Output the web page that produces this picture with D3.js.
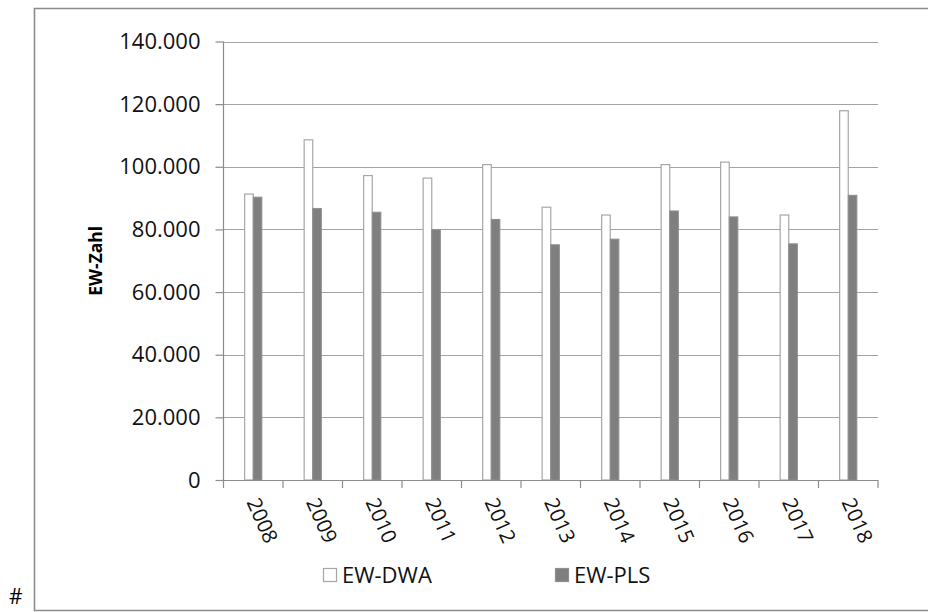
<!DOCTYPE html>
<html>
<head>
<meta charset="utf-8">
<script src="https://cdn.jsdelivr.net/npm/d3@7"></script>
<style>
  html, body { margin: 0; padding: 0; background: #fff; }
  svg { display: block; font-family: "Open Sans", "Noto Sans", sans-serif; }
</style>
</head>
<body>
<svg id="chart" width="928" height="612"></svg>
<script>
// Einwohnerzahlen je Jahr
const years = ["2008", "2009", "2010", "2011", "2012", "2013", "2014", "2015", "2016", "2017", "2018"];
const ewDWA = [91300, 108600, 97200, 96400, 100700, 87100, 84600, 100700, 101500, 84600, 117900];
const ewPLS = [90300, 86700, 85500, 79900, 83200, 75100, 76900, 85900, 84000, 75400, 90900];
const yTicks = [0, 20000, 40000, 60000, 80000, 100000, 120000, 140000];
const seriesNames = ["EW-DWA", "EW-PLS"];

const svg = d3.select("#chart");
const plot = { left: 223.5, right: 878, top: 41.5, bottom: 480 };

const de = d3.formatLocale({ decimal: ",", thousands: ".", grouping: [3], currency: ["", " €"] });
const fmt = de.format(",d");

const x = d3.scaleBand().domain(years).range([plot.left, plot.right]).padding(0);
const y = d3.scaleLinear().domain([0, 140000]).range([plot.bottom, plot.top]);
const barW = 8.6;

// Rahmen
svg.append("path")
  .attr("d", `M928,8.5 H34.5 V610.5 H928`)
  .attr("fill", "none")
  .attr("stroke", "#8c8c8c")
  .attr("stroke-width", 1.6);

svg.append("text")
  .attr("x", 9).attr("y", 604)
  .attr("font-size", 21)
  .attr("fill", "#000")
  .text("#");

// Gitterlinien
svg.append("g")
  .selectAll("line")
  .data(yTicks.filter(d => d > 0))
  .join("line")
  .attr("x1", plot.left).attr("x2", plot.right)
  .attr("y1", d => Math.round(y(d)) + 0.5).attr("y2", d => Math.round(y(d)) + 0.5)
  .attr("stroke", "#a3a3a3").attr("stroke-width", 1.2);

// Y-Achse
const yAxis = svg.append("g")
  .attr("transform", `translate(${plot.left},0)`)
  .call(d3.axisLeft(y).tickValues(yTicks).tickFormat(fmt).tickSize(8).tickPadding(15));
yAxis.select(".domain").attr("stroke", "#8c8c8c").attr("stroke-width", 1.2).attr("d", `M-0,${plot.top}V${plot.bottom}`);
yAxis.selectAll(".tick line").attr("stroke", "#8c8c8c").attr("stroke-width", 1.2);
yAxis.selectAll(".tick text").attr("font-size", 22).attr("fill", "#111").attr("font-family", "'Open Sans', sans-serif");

// Balken
const groups = svg.append("g")
  .selectAll("g")
  .data(years)
  .join("g");

groups.append("rect")
  .attr("x", (d) => x(d) + x.bandwidth() / 2 - barW)
  .attr("y", (d, i) => y(ewDWA[i]))
  .attr("width", barW)
  .attr("height", (d, i) => plot.bottom - y(ewDWA[i]))
  .attr("fill", "#ffffff")
  .attr("stroke", "#a6a6a6")
  .attr("stroke-width", 1.2);

groups.append("rect")
  .attr("x", (d) => x(d) + x.bandwidth() / 2)
  .attr("y", (d, i) => y(ewPLS[i]))
  .attr("width", barW)
  .attr("height", (d, i) => plot.bottom - y(ewPLS[i]))
  .attr("fill", "#7f7f7f")
  .attr("stroke", "#8f8f8f")
  .attr("stroke-width", 1);

// X-Achse
const xAxis = svg.append("g")
  .attr("transform", `translate(0,${plot.bottom})`)
  .call(d3.axisBottom(x).tickSize(0).tickFormat(""));
xAxis.select(".domain").attr("stroke", "#8c8c8c").attr("stroke-width", 1.2).attr("d", `M${plot.left},0.5H${plot.right}`);

svg.append("g")
  .selectAll("line")
  .data(years.concat(["end"]))
  .join("line")
  .attr("x1", (d, i) => plot.left + i * x.bandwidth())
  .attr("x2", (d, i) => plot.left + i * x.bandwidth())
  .attr("y1", plot.bottom).attr("y2", plot.bottom + 8)
  .attr("stroke", "#8c8c8c").attr("stroke-width", 1.2);

svg.append("g")
  .selectAll("text")
  .data(years)
  .join("text")
  .attr("transform", d => `translate(${x(d) + x.bandwidth() / 2 - 7},${plot.bottom + 22}) rotate(66)`)
  .attr("font-size", 20.5)
  .attr("fill", "#111")
  .text(d => d);

// Achsentitel
svg.append("text")
  .attr("transform", `translate(102,${(plot.top + plot.bottom) / 2}) rotate(-90)`)
  .attr("text-anchor", "middle")
  .attr("font-size", 17.5)
  .attr("font-weight", "bold")
  .attr("fill", "#000")
  .text("EW-Zahl");

// Legende
const legendX = [323, 555];
const legend = svg.append("g")
  .selectAll("g")
  .data(seriesNames)
  .join("g")
  .attr("transform", (d, i) => `translate(${legendX[i]},568)`);

legend.append("rect")
  .attr("x", 0.5).attr("y", 0.5)
  .attr("width", 13).attr("height", 13)
  .attr("fill", (d, i) => i === 0 ? "#ffffff" : "#7f7f7f")
  .attr("stroke", (d, i) => i === 0 ? "#a6a6a6" : "#8f8f8f")
  .attr("stroke-width", 1.2);

legend.append("text")
  .attr("x", 19).attr("y", 14.5)
  .attr("font-size", 22)
  .attr("fill", "#111")
  .text(d => d);
</script>
</body>
</html>
